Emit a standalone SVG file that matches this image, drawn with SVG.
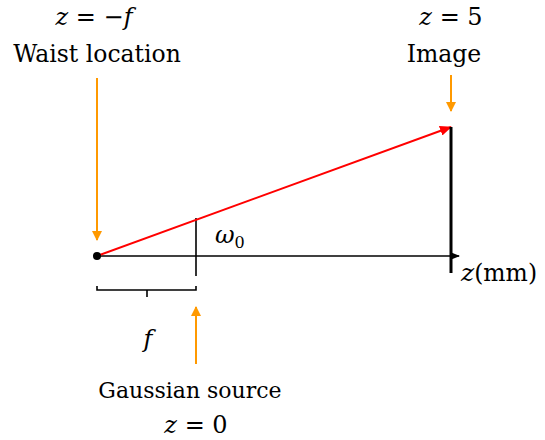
<svg xmlns="http://www.w3.org/2000/svg" width="545" height="440" viewBox="0 0 545 440">
<style>
text{font-family:"DejaVu Serif",serif;font-size:22px;fill:#000}
text.m{font-size:24px}
text.w{font-size:23.5px}
.i{font-style:italic}
.ax{stroke:#000;stroke-width:1.6;fill:none}
.or{stroke:#FF9900;stroke-width:2;fill:none}
</style>
<defs>
<marker id="ao" markerWidth="10" markerHeight="10" refX="9" refY="5" orient="auto" markerUnits="userSpaceOnUse"><path d="M0,0 L10,5 L0,10 Z" fill="#FF9900"/></marker>
<marker id="ar" markerWidth="12" markerHeight="10" refX="11" refY="5" orient="auto" markerUnits="userSpaceOnUse"><path d="M0,0 L12,5 L0,10 Z" fill="#FF0000"/></marker>
<marker id="ak" markerWidth="10" markerHeight="8" refX="9" refY="4" orient="auto" markerUnits="userSpaceOnUse"><path d="M0,0 L10,4 L0,8 Z" fill="#000"/></marker>
</defs>
<g id="connectors">
<line class="ax" x1="97" y1="256" x2="459" y2="256" marker-end="url(#ak)"/>
<line class="ax" x1="196" y1="218" x2="196" y2="276"/>
<line x1="97" y1="256" x2="451" y2="127" stroke="#FF0000" stroke-width="2" marker-end="url(#ar)"/>
<line x1="451" y1="127" x2="451" y2="273" stroke="#000" stroke-width="3"/>
<line class="or" x1="97" y1="78" x2="97" y2="240" marker-end="url(#ao)"/>
<line class="or" x1="451" y1="75" x2="451" y2="111" marker-end="url(#ao)"/>
<line class="or" x1="196" y1="364" x2="196" y2="307" marker-end="url(#ao)"/>
<path class="ax" d="M97,286 V290 H196 V286 M147,290 V297" stroke-width="1.3"/>
</g>
<circle cx="97" cy="256" r="4" fill="#000"/>
<g id="waist">
<text x="94" y="25" text-anchor="middle" class="m"><tspan class="i">z</tspan> = −<tspan class="i">f</tspan></text>
<text x="97" y="62" text-anchor="middle" class="w">Waist location</text>
</g>
<g id="image">
<text x="451" y="25" text-anchor="middle" class="m"><tspan class="i">z</tspan> = 5</text>
<text x="444" y="62" text-anchor="middle" class="w">Image</text>
</g>
<g id="omega"><text x="215" y="243" class="i m">ω<tspan font-style="normal" font-size="16" dy="5">0</tspan></text></g>
<g id="zaxis"><text x="461" y="281" class="w"><tspan class="i" font-size="25">z</tspan>(mm)</text></g>
<g id="flabel"><text x="148" y="347" text-anchor="middle" class="i m">f</text></g>
<g id="source">
<text x="190" y="398" text-anchor="middle">Gaussian source</text>
<text x="196" y="433" text-anchor="middle" class="m"><tspan class="i">z</tspan> = 0</text>
</g>
</svg>
